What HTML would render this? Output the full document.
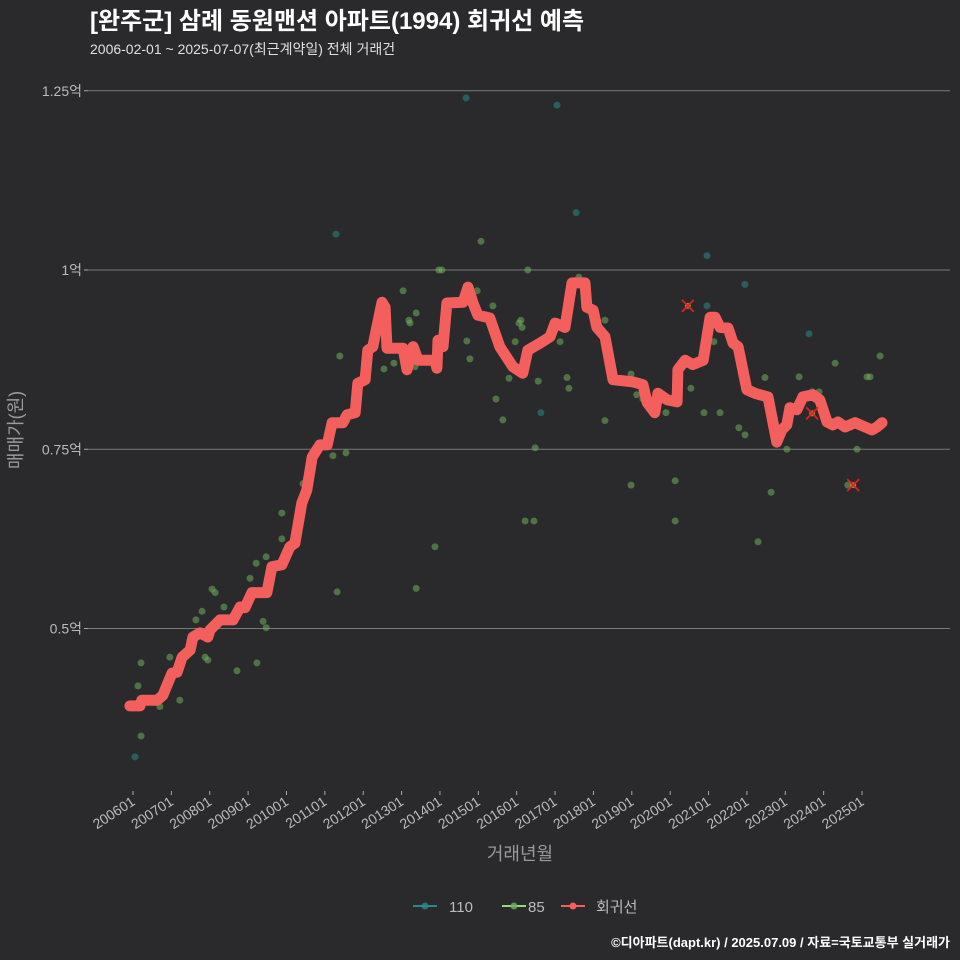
<!DOCTYPE html>
<html><head><meta charset="utf-8">
<style>
html,body{margin:0;padding:0;background:#2a292b;overflow:hidden;width:960px;height:960px;}
svg{display:block;}
svg text{font-family:"Liberation Sans","Noto Sans CJK KR",sans-serif;}
</style></head>
<body>
<svg id="chart" width="960" height="960" viewBox="0 0 960 960" xmlns="http://www.w3.org/2000/svg">
<rect width="960" height="960" fill="#2a292b"/>
<text x="90" y="29" font-size="24" font-weight="bold" fill="#ffffff">[완주군] 삼례 동원맨션 아파트(1994) 회귀선 예측</text>
<text x="90" y="54" font-size="14" fill="#e0e0e0">2006-02-01 ~ 2025-07-07(최근계약일) 전체 거래건</text>
<g id="grid"></g>
<g id="xticks"></g>
<g id="points"></g>
<g id="line"></g>
<g id="marks"></g>
<text x="520" y="860" font-size="18" fill="#9a9a9a" text-anchor="middle">거래년월</text>
<text transform="translate(22,430) rotate(-90)" font-size="18" fill="#9a9a9a" text-anchor="middle">매매가(원)</text>
<g>
 <g>
  <line x1="413" y1="906" x2="437" y2="906" stroke="#2a8a8a" stroke-width="2"/>
  <circle cx="425" cy="906" r="3.5" fill="#2a8a8a" opacity="0.8"/>
  <text x="449" y="912" font-size="15" fill="#bbbbbb">110</text>
 </g>
 <g>
  <line x1="502" y1="906" x2="526" y2="906" stroke="#8fdc78" stroke-width="2"/>
  <circle cx="514" cy="906" r="3.5" fill="#6fae5f" opacity="0.8"/>
  <text x="528" y="912" font-size="15" fill="#bbbbbb">85</text>
 </g>
 <g>
  <line x1="561" y1="906" x2="585" y2="906" stroke="#f25f5c" stroke-width="2"/>
  <circle cx="573" cy="906" r="3.5" fill="#f25f5c"/>
  <text x="596" y="912" font-size="15" fill="#bbbbbb">회귀선</text>
 </g>
</g>
<text x="950" y="947" font-size="13" font-weight="bold" fill="#ffffff" text-anchor="end">©디아파트(dapt.kr) / 2025.07.09 / 자료=국토교통부 실거래가</text>
</svg>
<script>
const yTicks=[0.5,0.75,1,1.25];
const yTickLabels=["0.5억","0.75억","1억","1.25억"];
const xTickYears=[2006,2007,2008,2009,2010,2011,2012,2013,2014,2015,2016,2017,2018,2019,2020,2021,2022,2023,2024,2025];
const xTickLabels=["200601","200701","200801","200901","201001","201101","201201","201301","201401","201501","201601","201701","201801","201901","202001","202101","202201","202301","202401","202501"];
const pts110Years=[2006.05,2011.29,2014.68,2017.05,2017.55,2020.96,2020.96,2021.95,2023.62,2016.63];
const pts110Values=[0.321,1.050,1.240,1.230,1.080,1.020,0.950,0.980,0.911,0.801];
const pts85Years=[2006.13,2006.21,2006.21,2006.70,2006.96,2007.22,2007.64,2007.80,2007.88,2007.95,2008.06,2008.14,2008.37,2008.71,2009.05,2009.21,2009.23,2009.39,2009.47,2009.47,2009.88,2009.88,2010.38,2010.43,2011.21,2011.32,2011.39,2011.55,2012.54,2013.04,2013.19,2013.22,2013.38,2013.38,2013.35,2013.87,2013.97,2014.05,2014.18,2014.70,2014.78,2014.97,2015.07,2015.38,2015.46,2015.64,2015.80,2015.96,2016.06,2016.11,2016.14,2016.22,2016.29,2016.48,2016.56,2017.13,2017.31,2017.62,2018.30,2018.30,2018.98,2019.13,2019.29,2019.89,2020.13,2020.13,2020.54,2020.88,2021.14,2021.30,2021.79,2021.95,2022.29,2022.47,2022.63,2023.04,2023.36,2023.70,2023.88,2024.30,2024.63,2024.87,2025.13,2025.21,2025.47,2016.45,2012.80,2017.36,2018.98];
const pts85Values=[0.420,0.452,0.350,0.391,0.460,0.400,0.512,0.524,0.460,0.456,0.555,0.550,0.530,0.441,0.570,0.591,0.452,0.510,0.501,0.600,0.625,0.661,0.651,0.702,0.741,0.551,0.880,0.745,0.862,0.971,0.930,0.926,0.940,0.556,0.865,0.614,1.000,1.000,0.951,0.901,0.876,0.971,1.040,0.950,0.820,0.791,0.849,0.900,0.926,0.930,0.920,0.650,1.000,0.752,0.845,0.900,0.850,0.990,0.790,0.930,0.855,0.826,0.820,0.801,0.706,0.650,0.835,0.801,0.900,0.801,0.780,0.770,0.621,0.850,0.690,0.750,0.851,0.830,0.830,0.870,0.700,0.750,0.851,0.851,0.880,0.650,0.870,0.835,0.700];
const regYears=[2005.92,2006.18,2006.23,2006.63,2006.78,2006.91,2007.02,2007.15,2007.28,2007.49,2007.56,2007.75,2007.95,2008.01,2008.27,2008.61,2008.79,2008.92,2009.10,2009.49,2009.62,2009.88,2010.09,2010.22,2010.40,2010.53,2010.67,2010.87,2011.06,2011.19,2011.47,2011.58,2011.79,2011.86,2012.05,2012.12,2012.25,2012.49,2012.57,2012.62,2013.04,2013.14,2013.30,2013.43,2013.87,2013.92,2013.95,2014.08,2014.18,2014.60,2014.73,2014.86,2014.99,2015.30,2015.56,2015.90,2016.16,2016.29,2016.61,2016.87,2017.00,2017.26,2017.44,2017.78,2017.83,2017.99,2018.09,2018.30,2018.51,2019.03,2019.29,2019.40,2019.60,2019.68,2019.92,2020.18,2020.20,2020.39,2020.59,2020.86,2021.04,2021.17,2021.30,2021.51,2021.64,2021.77,2022.00,2022.21,2022.34,2022.55,2022.68,2022.78,2022.91,2023.04,2023.12,2023.30,2023.46,2023.72,2023.90,2024.09,2024.24,2024.37,2024.56,2024.82,2025.08,2025.26,2025.39,2025.52];
const regValues=[0.392,0.392,0.400,0.400,0.407,0.424,0.438,0.439,0.460,0.470,0.488,0.494,0.488,0.498,0.512,0.512,0.530,0.529,0.550,0.550,0.586,0.589,0.614,0.619,0.675,0.693,0.739,0.756,0.756,0.787,0.787,0.798,0.801,0.842,0.847,0.888,0.893,0.955,0.948,0.891,0.891,0.861,0.893,0.874,0.874,0.863,0.902,0.893,0.954,0.955,0.976,0.954,0.937,0.933,0.893,0.865,0.856,0.888,0.898,0.907,0.926,0.920,0.982,0.982,0.948,0.944,0.920,0.907,0.847,0.844,0.840,0.815,0.801,0.828,0.819,0.816,0.861,0.874,0.868,0.874,0.934,0.934,0.920,0.919,0.898,0.893,0.833,0.828,0.826,0.823,0.787,0.760,0.777,0.784,0.808,0.805,0.823,0.826,0.819,0.788,0.784,0.788,0.781,0.787,0.781,0.777,0.781,0.787];
const markYears=[2020.46,2023.70,2024.77];
const markValues=[0.95,0.80,0.70];

const NS="http://www.w3.org/2000/svg";
function xs(yr){return 133+(yr-2006)*38.37;}
function ys(v){return 270-(v-1)*717;}
function mk(tag,attrs,parent){const e=document.createElementNS(NS,tag);for(const k in attrs)e.setAttribute(k,attrs[k]);parent.appendChild(e);return e;}

const grid=document.getElementById('grid');
yTicks.forEach((t,i)=>{
  const l=mk('line',{x1:88,x2:950,y1:ys(t),y2:ys(t),stroke:'#7a7a7a','stroke-width':1},grid);
  
  
  const tk=mk('line',{x1:84,x2:88,y1:ys(t),y2:ys(t),stroke:'#aaaaaa','stroke-width':1},grid);
  
  
  const tx=mk('text',{x:82,y:ys(t)+5,'font-size':14,fill:'#bbbbbb','text-anchor':'end'},grid);
  tx.textContent=yTickLabels[i];
  
  
});
const xg=document.getElementById('xticks');
xTickYears.forEach((yr,i)=>{
  const x=xs(yr);
  const tk=mk('line',{x1:x,x2:x,y1:791,y2:795,stroke:'#aaaaaa','stroke-width':1},xg);
  
  
  const tx=mk('text',{transform:`translate(${x+3},${804}) rotate(-33)`,'font-size':14,fill:'#bbbbbb','text-anchor':'end'},xg);
  tx.textContent=xTickLabels[i];
  
  
});
const pg=document.getElementById('points');
pts85Years.forEach((yr,i)=>{
  const c=mk('circle',{cx:xs(yr),cy:ys(pts85Values[i]),r:3.5,fill:'#6fae5f','fill-opacity':0.55},pg);
  
  
});
pts110Years.forEach((yr,i)=>{
  const c=mk('circle',{cx:xs(yr),cy:ys(pts110Values[i]),r:3.5,fill:'#2a8080','fill-opacity':0.6},pg);
  
  
});
const lg=document.getElementById('line');
const d=regYears.map((yr,i)=>(i?'L':'M')+xs(yr).toFixed(1)+' '+ys(regValues[i]).toFixed(1)).join(' ');
const p=mk('path',{d:d,fill:'none',stroke:'#f25f5c','stroke-width':11,'stroke-linejoin':'round','stroke-linecap':'round'},lg);


const mg=document.getElementById('marks');
markYears.forEach((yr,i)=>{
  const x=xs(yr),y=ys(markValues[i]);
  const g=mk('g',{},mg);
  
  
  mk('circle',{cx:x,cy:y,r:3,fill:'#c8c040','fill-opacity':0.7},g);
  mk('path',{d:`M${x-6} ${y-6}L${x+6} ${y+6}M${x+6} ${y-6}L${x-6} ${y+6}`,stroke:'#e02020','stroke-width':1.8},g);
});
</script>
</body></html>
